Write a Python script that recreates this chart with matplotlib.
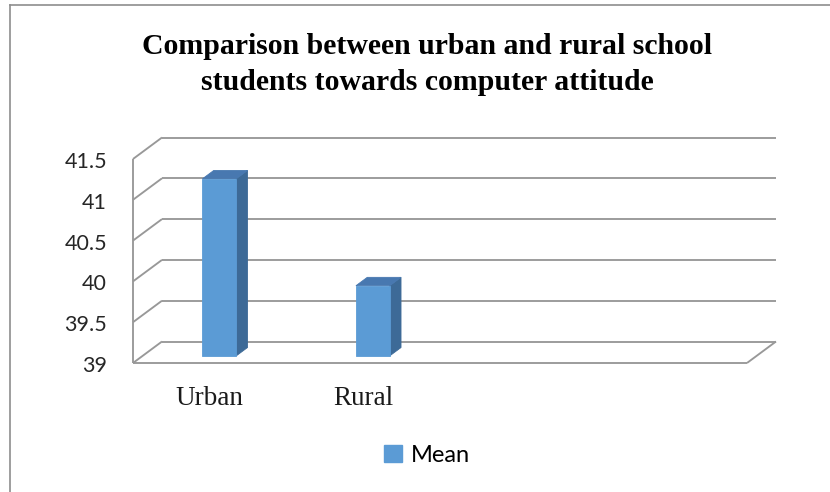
import matplotlib.pyplot as plt
from matplotlib.patches import Polygon, Patch
from matplotlib.lines import Line2D

# chart data
categories = ["Urban", "Rural", "", ""]
mean_values = [41.17, 39.86]
series_name = "Mean"
y_ticks = [39, 39.5, 40, 40.5, 41, 41.5]
y_tick_labels = ["39", "39.5", "40", "40.5", "41", "41.5"]
title_lines = ["Comparison between urban and rural school",
               "students towards computer attitude"]

W, H = 830, 492
fig = plt.figure(figsize=(W / 100, H / 100), dpi=100)
fig.patch.set_facecolor("white")

# front plane of the 3d box, in pixels
x_left, x_right, y_bot, y_top = 133, 747, 363, 159
ax = fig.add_axes([x_left / W, 1 - y_bot / H,
                   (x_right - x_left) / W, (y_bot - y_top) / H])
ax.set_xlim(0, len(categories))
ax.set_ylim(y_ticks[0], y_ticks[-1])
ax.axis("off")

# depth offset of the back wall, converted to data units
px_per_cat = (x_right - x_left) / len(categories)
px_per_val = (y_bot - y_top) / (y_ticks[-1] - y_ticks[0])
DX = 29 / px_per_cat
DY = 21.5 / px_per_val


def P(x, y, d):
    return (x + d * DX, y + d * DY)


grid_kw = dict(color="#989898", lw=1.35, clip_on=False, zorder=1,
               solid_capstyle="butt")
nc = len(categories)
y0 = y_ticks[0]
for t in y_ticks:
    # back wall gridline
    a, b = P(0, t, 1), P(nc, t, 1)
    ax.plot([a[0], b[0]], [a[1], b[1]], **grid_kw)
    # side wall diagonal
    a, b = P(0, t, 0), P(0, t, 1)
    ax.plot([a[0], b[0]], [a[1], b[1]], **grid_kw)
# side wall front edge and floor
ax.plot([0, 0], [y0, y_ticks[-1]], **grid_kw)
ax.plot([0, nc], [y0, y0], **grid_kw)
a, b = P(nc, y0, 0), P(nc, y0, 1)
ax.plot([a[0], b[0]], [a[1], b[1]], **grid_kw)

# 3d columns
bar_w = 0.22
d0, d1 = 0.33, 0.72
front_c, side_c, top_c = "#5B9BD5", "#3D6A97", "#4878B0"
for i, v in enumerate(mean_values):
    xa = i + 0.5 - bar_w / 2
    xb = xa + bar_w
    front = [P(xa, y0, d0), P(xb, y0, d0), P(xb, v, d0), P(xa, v, d0)]
    side = [P(xb, y0, d0), P(xb, y0, d1), P(xb, v, d1), P(xb, v, d0)]
    top = [P(xa, v, d0), P(xb, v, d0), P(xb, v, d1), P(xa, v, d1)]
    for pts, c in ((side, side_c), (top, top_c), (front, front_c)):
        ax.add_patch(Polygon(pts, closed=True, facecolor=c, edgecolor=c,
                             lw=0.6, clip_on=False, zorder=3))

# value axis labels on the front edge of the side wall
for t, lab in zip(y_ticks, y_tick_labels):
    ax.annotate(lab, xy=(0, t), xytext=(-26 * 0.72, -3 * 0.72),
                textcoords="offset points", ha="right", va="center",
                fontsize=15.5, family="Lato", color="#262626")

# category labels
for i, lab in enumerate(categories):
    if lab:
        ax.annotate(lab, xy=(i + 0.5, y0), xytext=(0, -42 * 0.72),
                    textcoords="offset points", ha="center", va="baseline",
                    fontsize=19.5, family="Liberation Serif", color="#1a1a1a")

# title, two lines
fig.text(427 / W, 1 - 54 / H, title_lines[0], ha="center", va="baseline",
         fontsize=21.4, fontweight="bold", family="Liberation Serif")
fig.text(427 / W, 1 - 90 / H, title_lines[1], ha="center", va="baseline",
         fontsize=21.4, fontweight="bold", family="Liberation Serif")

# legend
leg = fig.legend(handles=[Patch(facecolor=front_c, edgecolor=front_c, label=series_name)],
                 loc="center", bbox_to_anchor=(427 / W, 1 - 455 / H),
                 frameon=False, handlelength=0.75, handleheight=0.75,
                 handletextpad=0.35, prop={"family": "Lato", "size": 17})

# chart area border (left and top edges visible)
fig.add_artist(Line2D([9.5 / W, 9.5 / W], [0, 1 - 4.5 / H],
                      transform=fig.transFigure, color="#8E8E8E", lw=1.2))
fig.add_artist(Line2D([9.5 / W, 1], [1 - 4.5 / H, 1 - 4.5 / H],
                      transform=fig.transFigure, color="#8E8E8E", lw=1.2))

fig.savefig("out.png", dpi=100)
